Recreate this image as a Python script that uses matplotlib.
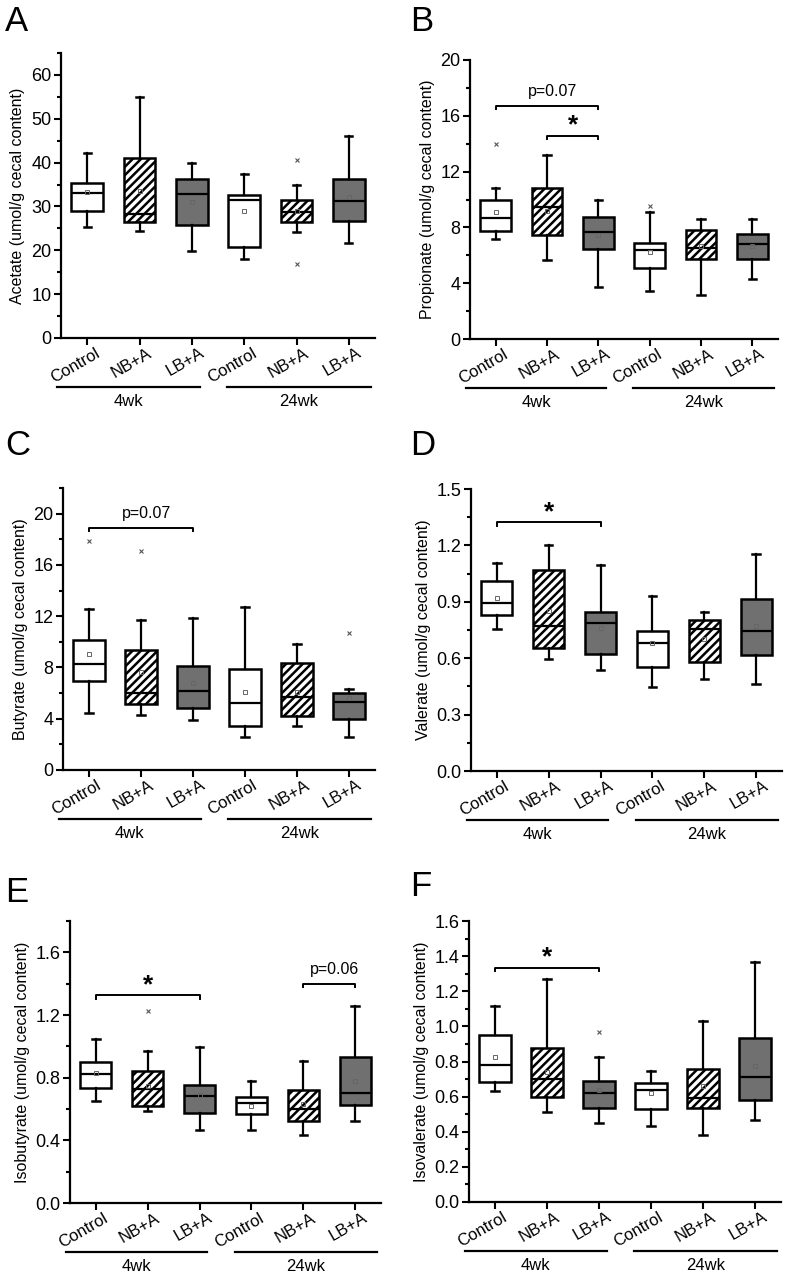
import numpy as np
import matplotlib.pyplot as plt
from matplotlib.ticker import MultipleLocator
from matplotlib.transforms import offset_copy, ScaledTranslation

plt.rcParams['font.family'] = ['Liberation Sans', 'DejaVu Sans']
plt.rcParams['hatch.linewidth'] = 1.8

groups = ['Control', 'NB+A', 'LB+A', 'Control', 'NB+A', 'LB+A']
periods = ['4wk', '24wk']

# A - acetate
acetate_lo = [25.3, 24.3, 19.9, 18.0, 24.1, 21.7]
acetate_q1 = [28.9, 26.5, 25.7, 20.7, 26.5, 26.7]
acetate_med = [33.0, 28.2, 32.9, 31.4, 28.7, 31.3]
acetate_q3 = [35.3, 41.0, 36.2, 32.7, 31.5, 36.2]
acetate_hi = [42.2, 55.0, 40.0, 37.5, 34.9, 46.0]
acetate_mean = [33.2, 33.5, 31.0, 28.9, 29.0, 32.2]
acetate_out = [[], [], [], [], [40.6, 16.8], []]

# B - propionate
propionate_lo = [7.16, 5.66, 3.72, 3.46, 3.13, 4.32]
propionate_q1 = [7.76, 7.42, 6.42, 5.11, 5.70, 5.70]
propionate_med = [8.66, 9.45, 7.68, 6.40, 6.52, 6.83]
propionate_q3 = [9.98, 10.86, 8.73, 6.85, 7.83, 7.54]
propionate_hi = [10.8, 13.2, 9.95, 9.09, 8.62, 8.62]
propionate_mean = [9.12, 9.2, 7.42, 6.23, 6.7, 6.68]
propionate_out = [[14.0], [], [], [9.52], [], []]

# C - butyrate
butyrate_lo = [4.48, 4.27, 3.91, 2.60, 3.41, 2.60]
butyrate_q1 = [6.93, 5.13, 4.84, 3.44, 4.24, 4.01]
butyrate_med = [8.26, 5.99, 6.20, 5.26, 5.68, 5.31]
butyrate_q3 = [10.16, 9.38, 8.10, 7.89, 8.36, 5.99]
butyrate_hi = [12.55, 11.7, 11.85, 12.73, 9.84, 6.30]
butyrate_mean = [9.06, 7.63, 6.82, 6.12, 6.1, 5.63]
butyrate_out = [[17.9], [17.1], [], [], [], [10.65]]

# D - valerate
valerate_lo = [0.755, 0.597, 0.535, 0.448, 0.487, 0.462]
valerate_q1 = [0.828, 0.654, 0.622, 0.553, 0.578, 0.615]
valerate_med = [0.892, 0.773, 0.789, 0.682, 0.757, 0.745]
valerate_q3 = [1.011, 1.068, 0.848, 0.746, 0.801, 0.913]
valerate_hi = [1.105, 1.203, 1.098, 0.931, 0.848, 1.153]
valerate_mean = [0.920, 0.85, 0.762, 0.679, 0.70, 0.773]
valerate_out = [[], [], [], [], [], []]

# E - isobutyrate
isobutyrate_lo = [0.650, 0.588, 0.464, 0.464, 0.432, 0.524]
isobutyrate_q1 = [0.737, 0.622, 0.577, 0.565, 0.522, 0.624]
isobutyrate_med = [0.824, 0.726, 0.682, 0.639, 0.597, 0.701]
isobutyrate_q3 = [0.903, 0.844, 0.754, 0.677, 0.724, 0.935]
isobutyrate_hi = [1.050, 0.969, 0.995, 0.780, 0.908, 1.257]
isobutyrate_mean = [0.829, 0.75, 0.688, 0.622, 0.63, 0.778]
isobutyrate_out = [[], [1.225], [], [], [], []]

# F - isovalerate
isovalerate_lo = [0.632, 0.511, 0.450, 0.435, 0.383, 0.469]
isovalerate_q1 = [0.681, 0.598, 0.535, 0.531, 0.535, 0.581]
isovalerate_med = [0.778, 0.700, 0.621, 0.638, 0.590, 0.714]
isovalerate_q3 = [0.953, 0.879, 0.689, 0.676, 0.755, 0.932]
isovalerate_hi = [1.116, 1.268, 0.827, 0.744, 1.029, 1.368]
isovalerate_mean = [0.826, 0.74, 0.638, 0.621, 0.66, 0.776]
isovalerate_out = [[], [], [0.968], [], [], []]

panels = [
    ('A', 'Acetate (umol/g cecal content)', 65, 10, 5,
     (acetate_lo, acetate_q1, acetate_med, acetate_q3, acetate_hi, acetate_mean, acetate_out),
     []),
    ('B', 'Propionate (umol/g cecal content)', 20, 4, 2,
     (propionate_lo, propionate_q1, propionate_med, propionate_q3, propionate_hi, propionate_mean, propionate_out),
     [(1, 3, 16.7, 'p=0.07'), (2, 3, 14.58, '*')]),
    ('C', 'Butyrate (umol/g cecal content)', 22, 4, 2,
     (butyrate_lo, butyrate_q1, butyrate_med, butyrate_q3, butyrate_hi, butyrate_mean, butyrate_out),
     [(1, 3, 18.9, 'p=0.07')]),
    ('D', 'Valerate (umol/g cecal content)', 1.5, 0.3, 0.15,
     (valerate_lo, valerate_q1, valerate_med, valerate_q3, valerate_hi, valerate_mean, valerate_out),
     [(1, 3, 1.322, '*')]),
    ('E', 'Isobutyrate (umol/g cecal content)', 1.8, 0.4, 0.2,
     (isobutyrate_lo, isobutyrate_q1, isobutyrate_med, isobutyrate_q3, isobutyrate_hi, isobutyrate_mean, isobutyrate_out),
     [(1, 3, 1.325, '*'), (5, 6, 1.40, 'p=0.06')]),
    ('F', 'Isovalerate (umol/g cecal content)', 1.6, 0.2, 0.1,
     (isovalerate_lo, isovalerate_q1, isovalerate_med, isovalerate_q3, isovalerate_hi, isovalerate_mean, isovalerate_out),
     [(1, 3, 1.332, '*')]),
]

# axes rectangles in pixels (left, top, right, bottom) of the 787x1282 canvas
W, H = 787, 1282
rects = [(61, 53, 375, 338), (470, 60, 778, 339),
         (63, 488, 375, 770), (471, 489, 782, 771),
         (70, 921, 381, 1203), (469, 921, 781, 1202)]
letter_xy = [(5, 5), (410, 5), (5, 429), (410, 429), (5, 876), (410, 870)]

fills = ['white', 'white', '#707070', 'white', 'white', '#707070']
hatches = ['', '////', '', '', '////', '']

fig = plt.figure(figsize=(W / 100, H / 100), dpi=100)
label_shift = ScaledTranslation(8 / 72, -3 / 72, fig.dpi_scale_trans)

for (letter, ylabel, ymax, major, minor, data, notes), (l, t, r, b), (lx, ly) in zip(panels, rects, letter_xy):
    ax = fig.add_axes([l / W, 1 - b / H, (r - l) / W, (b - t) / H])
    lo, q1, med, q3, hi, mean, out = data
    stats = []
    for i in range(6):
        stats.append(dict(whislo=lo[i], q1=q1[i], med=med[i], q3=q3[i],
                          whishi=hi[i], mean=mean[i], fliers=out[i]))
    pos = np.arange(1, 7)
    bp = ax.bxp(stats, positions=pos, widths=0.6, capwidths=0.14,
                patch_artist=True, showmeans=True,
                boxprops=dict(linewidth=1.8, edgecolor='black'),
                medianprops=dict(color='black', linewidth=1.6),
                whiskerprops=dict(color='black', linewidth=1.6),
                capprops=dict(color='black', linewidth=1.8),
                meanprops=dict(marker='s', markersize=3.2, markerfacecolor='none',
                               markeredgecolor='#666666', markeredgewidth=0.7),
                flierprops=dict(marker='x', markersize=3.5, markeredgecolor='#555555',
                                markeredgewidth=0.8))
    for patch, fc, hh in zip(bp['boxes'], fills, hatches):
        patch.set_facecolor(fc)
        patch.set_hatch(hh)

    ax.set_xlim(0.5, 6.5)
    ax.set_ylim(0, ymax)
    ax.yaxis.set_major_locator(MultipleLocator(major))
    ax.yaxis.set_minor_locator(MultipleLocator(minor))
    for s in ['top', 'right']:
        ax.spines[s].set_visible(False)
    for s in ['left', 'bottom']:
        ax.spines[s].set_linewidth(1.6)
    ax.tick_params(axis='y', which='major', length=5, width=1.5, labelsize=13, pad=2)
    ax.tick_params(axis='y', which='minor', length=3, width=1.5)
    ax.tick_params(axis='x', which='major', length=5, width=1.5, labelsize=12, pad=2)
    ax.set_xticks(pos)
    ax.set_xticklabels(groups, rotation=30, ha='right', va='center', rotation_mode='anchor')
    for lab in ax.get_xticklabels():
        lab.set_transform(lab.get_transform() + label_shift)
    ax.set_ylabel(ylabel, fontsize=11.5, labelpad=4)

    # period underlines and labels
    line_tr = offset_copy(ax.get_xaxis_transform(), fig, x=0, y=-35, units='points')
    text_tr = offset_copy(ax.get_xaxis_transform(), fig, x=0, y=-46, units='points')
    for (x1, x2), name in zip([(0.42, 3.15), (3.68, 6.42)], periods):
        ax.plot([x1, x2], [0, 0], color='black', linewidth=1.6, transform=line_tr, clip_on=False)
        ax.text((x1 + x2) / 2, 0, name, transform=text_tr, ha='center', va='center', fontsize=12)

    # significance brackets
    d = ymax * 0.012
    for x1, x2, y, txt in notes:
        ax.plot([x1, x1, x2, x2], [y - d, y, y, y - d], color='black', linewidth=1.4)
        if txt == '*':
            tr = offset_copy(ax.transData, fig, x=0, y=2.5, units='points')
            ax.text((x1 + x2) / 2, y, txt, transform=tr, ha='center', va='baseline',
                    fontsize=19, fontweight='bold')
        else:
            tr = offset_copy(ax.transData, fig, x=0, y=7, units='points')
            ax.text((x1 + x2) / 2 + 0.1, y, txt, transform=tr, ha='center', va='baseline',
                    fontsize=11.5)

    fig.text(lx / W, 1 - ly / H, letter, fontsize=25, ha='left', va='top')

fig.savefig('out.png', dpi=100)
